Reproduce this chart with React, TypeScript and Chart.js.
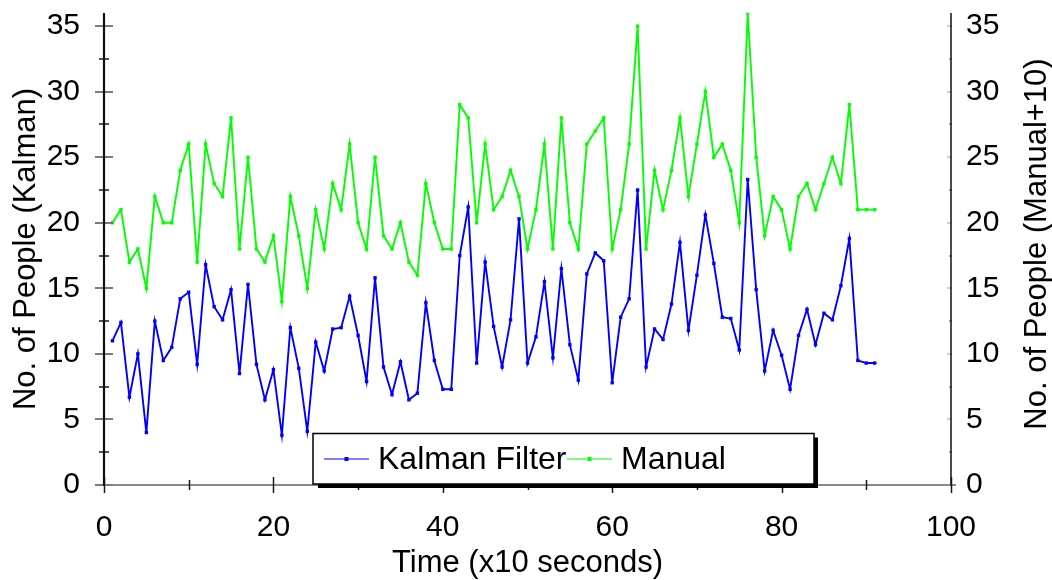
import { useEffect, useRef } from 'react';
import { Chart, registerables } from 'chart.js';

Chart.register(...registerables);

const FONT = '"Liberation Sans", Arial, Helvetica, sans-serif';

// Time index (x10 seconds)
const times = [
  1, 2, 3, 4, 5, 6, 7, 8, 9, 10,
  11, 12, 13, 14, 15, 16, 17, 18, 19, 20,
  21, 22, 23, 24, 25, 26, 27, 28, 29, 30,
  31, 32, 33, 34, 35, 36, 37, 38, 39, 40,
  41, 42, 43, 44, 45, 46, 47, 48, 49, 50,
  51, 52, 53, 54, 55, 56, 57, 58, 59, 60,
  61, 62, 63, 64, 65, 66, 67, 68, 69, 70,
  71, 72, 73, 74, 75, 76, 77, 78, 79, 80,
  81, 82, 83, 84, 85, 86, 87, 88, 89, 90, 91,
];

// No. of people estimated by the Kalman filter (left axis)
const kalman = [
  11.0, 12.4, 6.7, 10.0, 4.0, 12.5, 9.5, 10.5, 14.2, 14.7,
  9.2, 16.8, 13.6, 12.6, 14.9, 8.5, 15.3, 9.2, 6.5, 8.8,
  3.8, 12.0, 8.9, 4.1, 10.9, 8.7, 11.9, 12.0, 14.4, 11.4,
  7.9, 15.8, 9.0, 6.9, 9.4, 6.5, 7.0, 13.9, 9.5, 7.3,
  7.3, 17.5, 21.2, 9.3, 17.0, 12.1, 9.0, 12.6, 20.3, 9.3,
  11.3, 15.5, 9.7, 16.5, 10.7, 8.0, 16.1, 17.7, 17.1, 7.8,
  12.8, 14.2, 22.5, 9.0, 11.9, 11.1, 13.8, 18.5, 11.8, 16.0,
  20.6, 16.9, 12.8, 12.7, 10.3, 23.3, 14.9, 8.7, 11.8, 9.9,
  7.3, 11.4, 13.4, 10.7, 13.1, 12.6, 15.2, 18.8, 9.5, 9.3, 9.3,
];

// Manual count + 10 (right axis)
const manual = [
  20, 21, 17, 18, 15, 22, 20, 20, 24, 26,
  17, 26, 23, 22, 28, 18, 25, 18, 17, 19,
  14, 22, 19, 15, 21, 18, 23, 21, 26, 20,
  18, 25, 19, 18, 20, 17, 16, 23, 20, 18,
  18, 29, 28, 20, 26, 21, 22, 24, 22, 18,
  21, 26, 18, 28, 20, 18, 26, 27, 28, 18,
  21, 26, 35, 18, 24, 21, 24, 28, 22, 26,
  30, 25, 26, 24, 20, 36, 25, 19, 22, 21,
  18, 22, 23, 21, 23, 25, 23, 29, 21, 21, 21,
];

const seriesLabels = ['Kalman Filter', 'Manual'];
const seriesColors = ['#0000ff', '#00ff00'];
const xTitle = 'Time (x10 seconds)';
const yTitle = 'No. of People (Kalman)';
const y2Title = 'No. of People (Manual+10)';

function line(ctx: CanvasRenderingContext2D, x1: number, y1: number, x2: number, y2: number) {
  ctx.beginPath();
  ctx.moveTo(x1, y1);
  ctx.lineTo(x2, y2);
  ctx.stroke();
}

const axesPlugin = {
  id: 'axesDraw',
  afterDraw(chart: any) {
    const { ctx, chartArea } = chart;
    const { left, right, top, bottom } = chartArea;
    const xs = chart.scales.x;
    const ys = chart.scales.y;
    const ys2 = chart.scales.y2;
    ctx.save();
    ctx.lineCap = 'butt';
    // x axis line
    ctx.strokeStyle = '#8a8a8a';
    ctx.lineWidth = 2;
    line(ctx, left - 9, bottom, right + 5, bottom);
    // x ticks
    ctx.strokeStyle = '#1a1a1a';
    ctx.lineWidth = 1.5;
    for (let v = xs.min; v <= xs.max; v += 10) {
      const px = Math.round(xs.getPixelForValue(v)) + 0.5;
      const major = v % 20 === 0;
      line(ctx, px, bottom - (major ? 8 : 5), px, bottom + (major ? 8 : 5));
    }
    // left axis
    for (let v = 0; v <= 35; v += 2.5) {
      const py = Math.round(ys.getPixelForValue(v));
      const major = v % 5 === 0;
      ctx.strokeStyle = major ? '#7a7a7a' : '#1a1a1a';
      ctx.lineWidth = major ? 2 : 1.5;
      line(ctx, left - (major ? 9 : 5), py, left + (major ? 9 : 5), py);
    }
    ctx.strokeStyle = '#111';
    ctx.lineWidth = 2.2;
    line(ctx, left, top, left, bottom + 1);
    // right axis
    for (let v = 0; v <= 35; v += 2.5) {
      const py = Math.round(ys2.getPixelForValue(v));
      const major = v % 5 === 0;
      ctx.strokeStyle = major ? '#9a9a9a' : '#555';
      ctx.lineWidth = 1;
      line(ctx, right - (major ? 4 : 2), py, right + 1, py);
    }
    ctx.strokeStyle = '#111';
    ctx.lineWidth = 1.5;
    line(ctx, right, top, right, bottom + 1);

    // right axis title, reading bottom-to-top
    ctx.translate(1037, 244);
    ctx.rotate(-Math.PI / 2);
    ctx.font = `31px ${FONT}`;
    ctx.fillStyle = '#000';
    ctx.textAlign = 'center';
    ctx.textBaseline = 'middle';
    ctx.fillText(y2Title, 0, 0);
    ctx.restore();

    // Legend box
    const bx = 313, by = 433.5, bw = 501, bh = 50.5;
    ctx.save();
    ctx.fillStyle = '#000';
    ctx.fillRect(bx + bw, by + 4, 4, bh);
    ctx.fillRect(bx + 5, by + bh, bw - 1, 4);
    ctx.fillStyle = '#fff';
    ctx.fillRect(bx, by, bw, bh);
    ctx.strokeStyle = '#000';
    ctx.lineWidth = 1.5;
    ctx.strokeRect(bx, by, bw, bh);
    const cy = 459;
    const items = [
      { x1: 324, x2: 369, tx: 378 },
      { x1: 567, x2: 612, tx: 621 },
    ];
    ctx.font = `32px ${FONT}`;
    ctx.textBaseline = 'middle';
    ctx.textAlign = 'left';
    chart.data.datasets.forEach((ds: any, i: number) => {
      const it = items[i];
      ctx.strokeStyle = ds.borderColor;
      ctx.lineWidth = 1.2;
      line(ctx, it.x1, cy, it.x2, cy);
      ctx.fillStyle = ds.borderColor;
      const mx = (it.x1 + it.x2) / 2;
      ctx.fillRect(mx - 2, cy - 2, 4, 4);
      ctx.fillStyle = '#000';
      ctx.fillText(ds.label, it.tx, cy + 1);
    });
    ctx.restore();
  },
};

export default function App() {
  const ref = useRef<HTMLCanvasElement>(null);

  useEffect(() => {
    if (!ref.current) return;
    const tickFont = { family: FONT, size: 30 };
    const chart = new Chart(ref.current, {
      type: 'line',
      data: {
        datasets: [
          {
            label: seriesLabels[0],
            data: times.map((t, i) => ({ x: t, y: kalman[i] })),
            borderColor: seriesColors[0],
            backgroundColor: seriesColors[0],
            borderWidth: 1.9,
            pointStyle: 'rect',
            pointRadius: 2.4,
            pointBorderWidth: 0,
            yAxisID: 'y',
            tension: 0,
          },
          {
            label: seriesLabels[1],
            data: times.map((t, i) => ({ x: t, y: manual[i] })),
            borderColor: seriesColors[1],
            backgroundColor: seriesColors[1],
            borderWidth: 1.9,
            pointStyle: 'rect',
            pointRadius: 2.4,
            pointBorderWidth: 0,
            yAxisID: 'y2',
            tension: 0,
          },
        ],
      },
      options: {
        animation: false,
        responsive: true,
        maintainAspectRatio: false,
        layout: { padding: { top: 13, left: 0, right: 0, bottom: 0 } },
        plugins: {
          legend: { display: false },
          tooltip: { enabled: false },
        },
        scales: {
          x: {
            type: 'linear',
            position: 'bottom',
            min: 0,
            max: 100,
            grid: { display: false, drawTicks: false },
            border: { display: false },
            ticks: {
              stepSize: 20,
              padding: 25,
              color: '#000',
              font: tickFont,
              maxRotation: 0,
              includeBounds: false,
            },
            title: {
              display: true,
              text: xTitle,
              color: '#000',
              font: { family: FONT, size: 31, lineHeight: 1.2 },
              padding: { top: 0, bottom: -2 },
            },
            afterFit: (s: any) => {
              s.height = 95;
              s.paddingLeft = 0;
              s.paddingRight = 0;
            },
          },
          y: {
            type: 'linear',
            position: 'left',
            min: 0,
            max: 36,
            grid: { display: false, drawTicks: false },
            border: { display: false },
            ticks: {
              stepSize: 5,
              padding: 24,
              color: '#000',
              font: tickFont,
              includeBounds: false,
            },
            title: {
              display: true,
              text: yTitle,
              color: '#000',
              font: { family: FONT, size: 31, lineHeight: 1.2 },
              padding: { top: 8, bottom: 0 },
            },
            afterFit: (s: any) => {
              s.width = 104;
              s.paddingTop = 0;
              s.paddingBottom = 0;
            },
          },
          y2: {
            type: 'linear',
            position: 'right',
            min: 0,
            max: 36,
            grid: { display: false, drawTicks: false },
            border: { display: false },
            ticks: {
              stepSize: 5,
              padding: 15,
              color: '#000',
              font: tickFont,
              includeBounds: false,
            },
            title: { display: false, text: y2Title },
            afterFit: (s: any) => {
              s.width = 101;
              s.paddingTop = 0;
              s.paddingBottom = 0;
            },
          },
        },
      },
      plugins: [axesPlugin],
    });
    return () => chart.destroy();
  }, []);

  return (
    <div style={{ position: 'absolute', left: 0, top: 0, width: 1052, height: 580 }}>
      <canvas ref={ref} />
    </div>
  );
}
